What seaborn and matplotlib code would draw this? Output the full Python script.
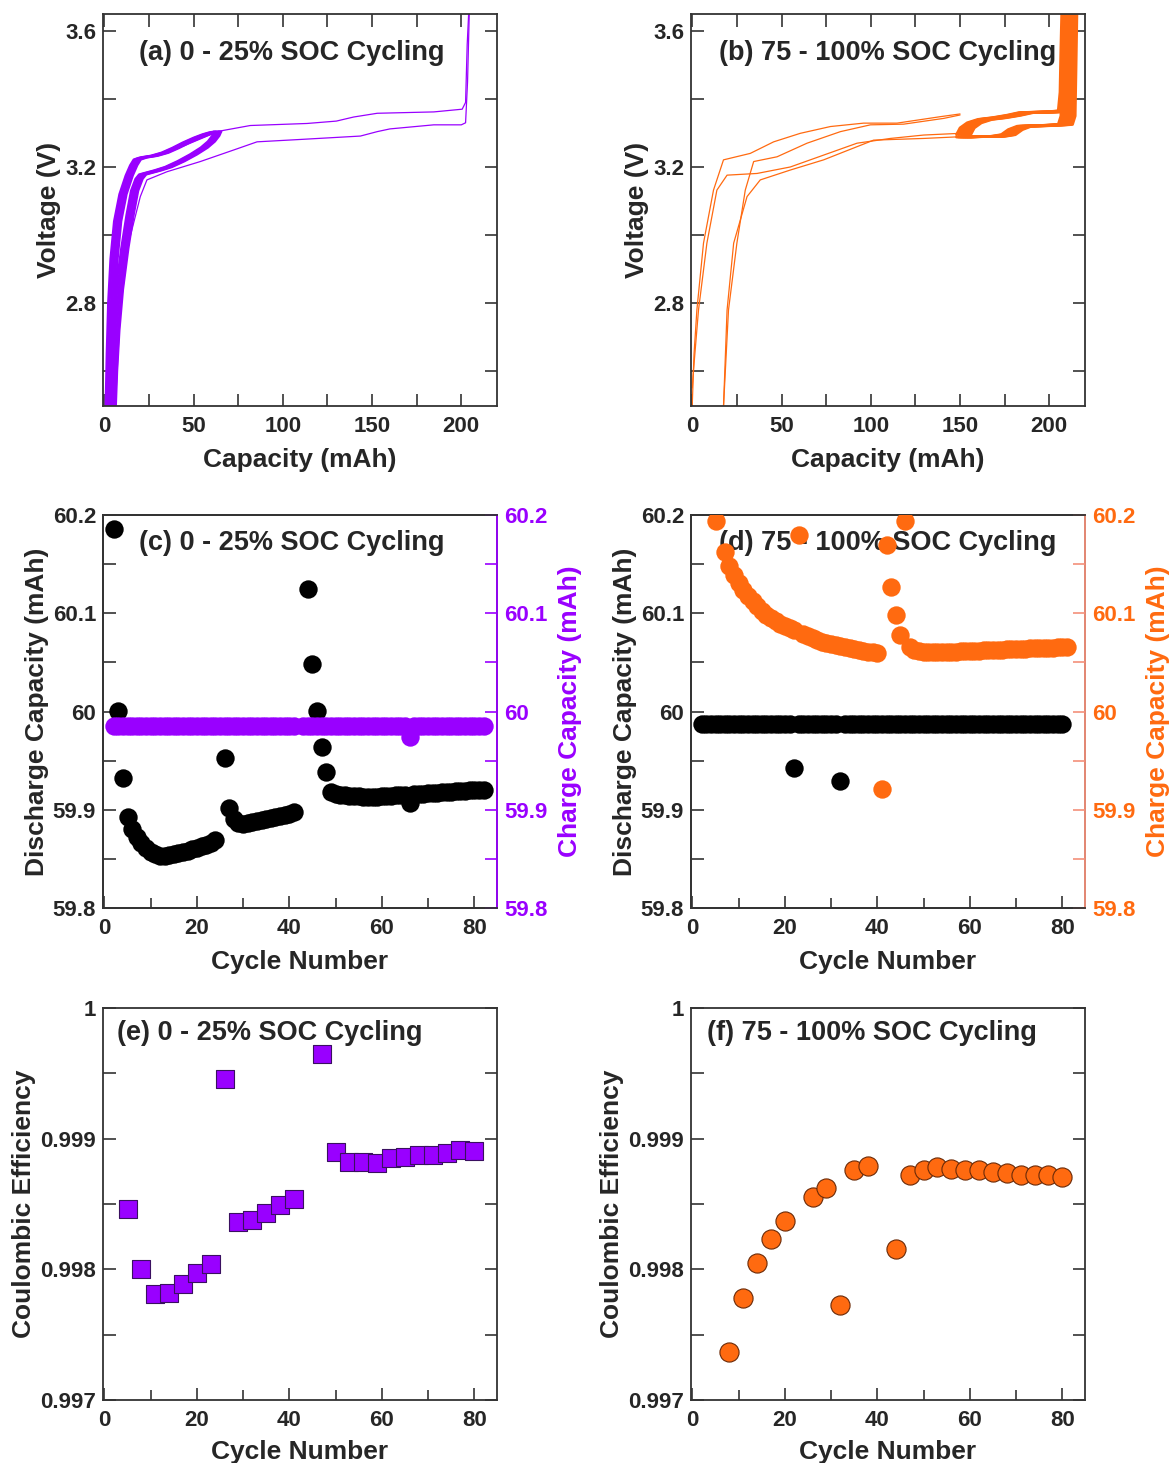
import numpy as np
import pandas as pd
import matplotlib
matplotlib.use("Agg")
import matplotlib.pyplot as plt
from matplotlib.ticker import MultipleLocator, FormatStrFormatter, FuncFormatter
import seaborn as sns

sns.set_style("ticks")
plt.rcParams['font.family'] = ['Liberation Sans', 'DejaVu Sans']
plt.rcParams['font.weight'] = 'bold'
plt.rcParams['axes.labelweight'] = 'bold'

PURPLE = '#9900ff'
ORANGE = '#ff6a10'
ORANGE_SPINE = '#f3907a'
SPINE = '#333333'

# ---------------- (a) 0-25% SOC voltage curves ----------------
a_bundle_chg_cap = [0.8, 1.4, 2.2, 3.5, 5.5, 8.5, 12.0, 14.5, 16.5, 20.0, 26.0, 32.0, 38.0, 44.0, 50.0, 55.0, 59.0, 61.5]
a_bundle_chg_v = [2.50, 2.65, 2.80, 2.93, 3.04, 3.12, 3.175, 3.205, 3.222, 3.228, 3.233, 3.242, 3.256, 3.272, 3.286, 3.296, 3.302, 3.304]
a_bundle_dis_cap = [61.5, 60.5, 58.0, 54.0, 48.0, 41.0, 34.0, 28.0, 23.0, 19.5, 17.5, 15.0, 12.5, 9.5, 6.5, 4.5, 3.2, 2.5]
a_bundle_dis_v = [3.304, 3.292, 3.275, 3.257, 3.237, 3.217, 3.200, 3.190, 3.183, 3.178, 3.165, 3.13, 3.06, 2.96, 2.84, 2.72, 2.60, 2.50]
a_bundle_shift = [0.0, 0.8, 1.6, 2.4, 3.2, 4.0]

a_long_chg_cap = [3.0, 4.5, 7.0, 11.0, 15.0, 18.3, 25.8, 35.0, 44.5, 55.0, 64.0, 81.8, 113.6, 130.0, 139.7, 152.9, 184.6, 200.5, 202.4, 203.3, 204.2]
a_long_chg_v = [2.50, 2.80, 3.00, 3.13, 3.20, 3.226, 3.232, 3.245, 3.262, 3.285, 3.305, 3.322, 3.328, 3.335, 3.347, 3.358, 3.362, 3.370, 3.39, 3.56, 3.66]
a_long_dis_cap = [204.5, 203.5, 202.4, 200.0, 184.6, 160.0, 152.9, 143.5, 109.9, 85.6, 72.5, 53.8, 35.1, 23.9, 20.2, 13.6, 9.0, 6.2]
a_long_dis_v = [3.66, 3.45, 3.33, 3.324, 3.324, 3.312, 3.304, 3.291, 3.281, 3.274, 3.250, 3.216, 3.186, 3.162, 3.113, 2.976, 2.779, 2.495]

# ---------------- (b) 75-100% SOC voltage curves ----------------
b_chg1_cap = [0.0, 1.0, 2.6, 6.3, 11.9, 17.5, 32.5, 45.6, 60.5, 77.4, 96.0, 114.7, 139.0, 150.0]
b_chg1_v = [2.50, 2.65, 2.78, 2.976, 3.132, 3.221, 3.240, 3.274, 3.299, 3.319, 3.329, 3.329, 3.348, 3.356]
b_chg2_cap = [17.5, 20.3, 25.0, 29.7, 34.4, 47.5, 64.3, 83.0, 99.8, 118.4, 140.9, 150.0]
b_chg2_v = [2.495, 2.779, 2.976, 3.132, 3.216, 3.230, 3.270, 3.304, 3.324, 3.326, 3.343, 3.353]
b_dis1_cap = [150.0, 129.7, 111.0, 92.3, 73.6, 54.9, 36.3, 19.5, 13.8, 8.2, 3.5, 0.4, 0.0]
b_dis1_v = [3.299, 3.294, 3.284, 3.270, 3.235, 3.200, 3.181, 3.176, 3.132, 2.976, 2.779, 2.583, 2.55]
b_dis2_cap = [150.0, 129.7, 101.6, 73.6, 54.9, 38.1, 30.7, 23.2, 19.5, 17.5]
b_dis2_v = [3.289, 3.284, 3.279, 3.221, 3.191, 3.162, 3.113, 2.976, 2.779, 2.495]

b_bundle_chg_cap = [148.0, 150.0, 154.0, 160.0, 168.0, 176.0, 183.0, 198.0, 205.0, 206.0, 206.5, 207.0]
b_bundle_chg_v = [3.295, 3.315, 3.330, 3.340, 3.345, 3.352, 3.360, 3.362, 3.365, 3.42, 3.55, 3.66]
b_bundle_dis_cap = [207.5, 207.0, 206.5, 205.0, 195.0, 182.0, 177.0, 173.0, 167.0, 158.0, 148.0]
b_bundle_dis_v = [3.66, 3.50, 3.35, 3.325, 3.322, 3.320, 3.310, 3.295, 3.290, 3.290, 3.288]
b_bundle_shift = [0.0, 1.0, 2.0, 3.0, 4.0, 5.0, 6.0, 7.0, 8.0]

# ---------------- (c) 0-25% SOC capacities ----------------
c_dis_cycle = [2, 3, 4, 5, 6, 7, 8, 9, 10, 11, 12, 13, 14, 15, 16, 17, 18, 19, 20, 21, 22, 23, 24,
               26, 27, 28, 29, 30, 31, 32, 33, 34, 35, 36, 37, 38, 39, 40, 41,
               44, 45, 46, 47, 48, 49, 50, 51, 52, 53, 54, 55, 56, 57, 58, 59, 60, 61, 62, 63, 64, 65,
               66, 67, 68, 69, 70, 71, 72, 73, 74, 75, 76, 77, 78, 79, 80, 81, 82]
c_dis_cap = [60.186, 60.001, 59.932, 59.893, 59.880, 59.872, 59.866, 59.861, 59.857, 59.855, 59.853, 59.853,
             59.854, 59.855, 59.856, 59.857, 59.858, 59.860, 59.861, 59.863, 59.864, 59.866, 59.869,
             59.953, 59.902, 59.891, 59.887, 59.886, 59.887, 59.888, 59.889, 59.890, 59.891, 59.892,
             59.893, 59.894, 59.895, 59.896, 59.898,
             60.125, 60.048, 60.001, 59.964, 59.938, 59.918, 59.916, 59.915, 59.915, 59.914, 59.914,
             59.914, 59.913, 59.913, 59.913, 59.913, 59.914, 59.914, 59.914, 59.915, 59.915, 59.915,
             59.907, 59.916, 59.916, 59.916, 59.917, 59.917, 59.917, 59.918, 59.918, 59.918, 59.919,
             59.919, 59.919, 59.920, 59.920, 59.920, 59.920]
c_chg_cycle = [2, 3, 4, 5, 6, 7, 8, 9, 10, 11, 12, 13, 14, 15, 16, 17, 18, 19, 20, 21, 22, 23, 24, 25,
               26, 27, 28, 29, 30, 31, 32, 33, 34, 35, 36, 37, 38, 39, 40, 41,
               43, 44, 45, 46, 47, 48, 49, 50, 51, 52, 53, 54, 55, 56, 57, 58, 59, 60, 61, 62, 63, 64, 65,
               66, 67, 68, 69, 70, 71, 72, 73, 74, 75, 76, 77, 78, 79, 80, 81, 82]
c_chg_cap = [59.985, 59.985, 59.985, 59.985, 59.985, 59.985, 59.985, 59.985, 59.985, 59.985,
             59.985, 59.985, 59.985, 59.985, 59.985, 59.985, 59.985, 59.985, 59.985, 59.985,
             59.985, 59.985, 59.985, 59.985, 59.985, 59.985, 59.985, 59.985, 59.985, 59.985,
             59.985, 59.985, 59.985, 59.985, 59.985, 59.985, 59.985, 59.985, 59.985, 59.985,
             59.985, 59.985, 59.985, 59.985, 59.985, 59.985, 59.985, 59.985, 59.985, 59.985,
             59.985, 59.985, 59.985, 59.985, 59.985, 59.985, 59.985, 59.985, 59.985, 59.985,
             59.985, 59.985, 59.985, 59.974, 59.985, 59.985, 59.985, 59.985, 59.985, 59.985,
             59.985, 59.985, 59.985, 59.985, 59.985, 59.985, 59.985, 59.985, 59.985, 59.985]

# ---------------- (d) 75-100% SOC capacities ----------------
d_dis_cycle = [2, 3, 4, 5, 6, 7, 8, 9, 10, 11, 12, 13, 14, 15, 16, 17, 18, 19, 20, 21, 22, 23, 24, 25,
               26, 27, 28, 29, 30, 31, 32, 33, 34, 35, 36, 37, 38, 39, 40, 41, 42, 43, 44, 45, 46, 47,
               48, 49, 50, 51, 52, 53, 54, 55, 56, 57, 58, 59, 60, 61, 62, 63, 64, 65, 66, 67, 68, 69,
               70, 71, 72, 73, 74, 75, 76, 77, 78, 79, 80]
d_dis_cap = [59.987, 59.987, 59.987, 59.987, 59.987, 59.987, 59.987, 59.987, 59.987, 59.987,
             59.987, 59.987, 59.987, 59.987, 59.987, 59.987, 59.987, 59.987, 59.987, 59.987,
             59.943, 59.987, 59.987, 59.987, 59.987, 59.987, 59.987, 59.987, 59.987, 59.987,
             59.929, 59.987, 59.987, 59.987, 59.987, 59.987, 59.987, 59.987, 59.987, 59.987,
             59.987, 59.987, 59.987, 59.987, 59.987, 59.987, 59.987, 59.987, 59.987, 59.987,
             59.987, 59.987, 59.987, 59.987, 59.987, 59.987, 59.987, 59.987, 59.987, 59.987,
             59.987, 59.987, 59.987, 59.987, 59.987, 59.987, 59.987, 59.987, 59.987, 59.987,
             59.987, 59.987, 59.987, 59.987, 59.987, 59.987, 59.987, 59.987, 59.987]
d_chg_cycle = [5, 7, 8, 9, 10, 11, 12, 13, 14, 15, 16, 17, 18, 19, 20, 21, 22, 23, 24, 25, 26, 27, 28,
               29, 30, 31, 32, 33, 34, 35, 36, 37, 38, 39, 40, 41, 42, 43, 44, 45, 46, 47, 48, 49, 50,
               51, 52, 53, 54, 55, 56, 57, 58, 59, 60, 61, 62, 63, 64, 65, 66, 67, 68, 69, 70, 71, 72,
               73, 74, 75, 76, 77, 78, 79, 80, 81]
d_chg_cap = [60.194, 60.162, 60.148, 60.139, 60.131, 60.124, 60.118, 60.112, 60.107, 60.102,
             60.098, 60.095, 60.092, 60.089, 60.087, 60.085, 60.083, 60.180, 60.079, 60.077,
             60.075, 60.073, 60.071, 60.070, 60.069, 60.068, 60.067, 60.066, 60.065, 60.064,
             60.063, 60.062, 60.061, 60.061, 60.060, 59.921, 60.169, 60.127, 60.098, 60.078,
             60.194, 60.066, 60.063, 60.062, 60.061, 60.061, 60.061, 60.061, 60.061, 60.061,
             60.061, 60.061, 60.062, 60.062, 60.062, 60.062, 60.062, 60.063, 60.063, 60.063,
             60.063, 60.063, 60.064, 60.064, 60.064, 60.064, 60.064, 60.065, 60.065, 60.065,
             60.065, 60.065, 60.065, 60.066, 60.066, 60.066]

# ---------------- (e), (f) Coulombic efficiency ----------------
e_cycle = [5, 8, 11, 14, 17, 20, 23, 26, 29, 32, 35, 38, 41, 47, 50, 53, 56, 59, 62, 65, 68, 71, 74, 77, 80]
e_ce = [0.998463, 0.998005, 0.997814, 0.997822, 0.997891, 0.997975, 0.998038, 0.999458, 0.998361,
        0.998374, 0.998433, 0.998491, 0.998540, 0.999649, 0.998898, 0.998819, 0.998819, 0.998814,
        0.998853, 0.998857, 0.998878, 0.998878, 0.998891, 0.998911, 0.998903]
f_cycle = [8, 11, 14, 17, 20, 26, 29, 32, 35, 38, 44, 47, 50, 53, 56, 59, 62, 65, 68, 71, 74, 77, 80]
f_ce = [0.997369, 0.997784, 0.998051, 0.998234, 0.998369, 0.998555, 0.998624, 0.997725, 0.998763,
        0.998789, 0.998158, 0.998725, 0.998763, 0.998784, 0.998769, 0.998763, 0.998758, 0.998743,
        0.998738, 0.998725, 0.998725, 0.998725, 0.998708]

titles = ["(a) 0 - 25% SOC Cycling", "(b) 75 - 100% SOC Cycling",
          "(c) 0 - 25% SOC Cycling", "(d) 75 - 100% SOC Cycling",
          "(e) 0 - 25% SOC Cycling", "(f) 75 - 100% SOC Cycling"]

TICK_FS = 16
LABEL_FS = 19
TITLE_FS = 19.5

W, H = 1171, 1463
fig = plt.figure(figsize=(W / 100, H / 100), dpi=100)


def box(l, t, r, b):
    return [l / W, 1 - b / H, (r - l) / W, (b - t) / H]


def style(ax, top=True, right=True):
    for s in ax.spines.values():
        s.set_color(SPINE)
        s.set_linewidth(1.3)
    ax.tick_params(which='both', direction='in', top=top, right=right,
                   labelsize=TICK_FS, color=SPINE, width=1.2, pad=5)
    ax.tick_params(axis='x', which='both', pad=7)
    ax.tick_params(which='major', length=9)
    ax.tick_params(which='minor', length=7)
    for lab in ax.get_xticklabels() + ax.get_yticklabels():
        lab.set_fontweight('bold')


def gfmt(v, pos):
    return ('%g' % round(v, 6))


# ---------- (a) ----------
ax_a = fig.add_axes(box(103, 14, 497, 406))
for sh in a_bundle_shift:
    sns.lineplot(x=[c + sh for c in a_bundle_chg_cap], y=a_bundle_chg_v, sort=False, estimator=None,
                 ax=ax_a, color=PURPLE, lw=1.6)
    sns.lineplot(x=[c + sh for c in a_bundle_dis_cap], y=a_bundle_dis_v, sort=False, estimator=None,
                 ax=ax_a, color=PURPLE, lw=1.6)
sns.lineplot(x=a_long_chg_cap, y=a_long_chg_v, sort=False, estimator=None, ax=ax_a, color=PURPLE, lw=0.9)
sns.lineplot(x=a_long_dis_cap, y=a_long_dis_v, sort=False, estimator=None, ax=ax_a, color=PURPLE, lw=0.9)

# ---------- (b) ----------
ax_b = fig.add_axes(box(691, 14, 1085, 406))
for xs, ys in [(b_chg1_cap, b_chg1_v), (b_chg2_cap, b_chg2_v), (b_dis1_cap, b_dis1_v), (b_dis2_cap, b_dis2_v)]:
    sns.lineplot(x=xs, y=ys, sort=False, estimator=None, ax=ax_b, color=ORANGE, lw=0.9)
for sh in b_bundle_shift:
    sns.lineplot(x=[c + sh for c in b_bundle_chg_cap], y=b_bundle_chg_v, sort=False, estimator=None,
                 ax=ax_b, color=ORANGE, lw=2.0)
    sns.lineplot(x=[c + sh for c in b_bundle_dis_cap], y=b_bundle_dis_v, sort=False, estimator=None,
                 ax=ax_b, color=ORANGE, lw=2.0)

for ax, t, tx in [(ax_a, titles[0], 0.091), (ax_b, titles[1], 0.071)]:
    ax.set_xlim(-0.7, 220)
    ax.set_ylim(2.497, 3.65)
    ax.xaxis.set_major_locator(MultipleLocator(50))
    ax.xaxis.set_minor_locator(MultipleLocator(25))
    ax.yaxis.set_major_locator(MultipleLocator(0.4))
    ax.yaxis.set_minor_locator(MultipleLocator(0.2))
    ax.yaxis.set_major_formatter(FormatStrFormatter('%.1f'))
    ax.set_xlabel("Capacity (mAh)", fontsize=LABEL_FS, fontweight='bold', labelpad=8)
    ax.set_ylabel("Voltage (V)", fontsize=LABEL_FS, fontweight='bold', labelpad=3)
    ax.text(tx, 0.90, t, transform=ax.transAxes, fontsize=TITLE_FS, fontweight='bold',
            ha='left', va='center')
    style(ax, top=True, right=True)
    ax.tick_params(which='minor', length=9)

# ---------- (c) and (d) ----------
S_CIRC = 175
for (l, r, dcy, dcap, ccy, ccap, col, spcol, t, tx) in [
        (103, 497, c_dis_cycle, c_dis_cap, c_chg_cycle, c_chg_cap, PURPLE, PURPLE, titles[2], 0.091),
        (691, 1085, d_dis_cycle, d_dis_cap, d_chg_cycle, d_chg_cap, ORANGE, ORANGE_SPINE, titles[3], 0.071)]:
    ax = fig.add_axes(box(l, 515, r, 908))
    sns.scatterplot(x=dcy, y=dcap, ax=ax, color='black', s=S_CIRC, linewidth=0, legend=False, zorder=3)
    ax.set_xlim(-0.3, 84.9)
    ax.set_ylim(59.8, 60.2)
    ax.xaxis.set_major_locator(MultipleLocator(20))
    ax.xaxis.set_minor_locator(MultipleLocator(10))
    ax.yaxis.set_major_locator(MultipleLocator(0.1))
    ax.yaxis.set_minor_locator(MultipleLocator(0.05))
    ax.yaxis.set_major_formatter(FuncFormatter(gfmt))
    ax.set_xlabel("Cycle Number", fontsize=LABEL_FS, fontweight='bold', labelpad=8)
    ax.set_ylabel("Discharge Capacity (mAh)", fontsize=LABEL_FS, fontweight='bold', labelpad=3)
    ax.text(tx, 0.929, t, transform=ax.transAxes, fontsize=TITLE_FS, fontweight='bold',
            ha='left', va='center', zorder=5)
    style(ax, top=False, right=False)
    ax.tick_params(axis='y', which='minor', length=9)

    tw = ax.twinx()
    sns.scatterplot(x=ccy, y=ccap, ax=tw, color=col, s=S_CIRC, linewidth=0, legend=False, zorder=3)
    tw.set_ylim(59.8, 60.2)
    tw.yaxis.set_major_locator(MultipleLocator(0.1))
    tw.yaxis.set_minor_locator(MultipleLocator(0.05))
    tw.yaxis.set_major_formatter(FuncFormatter(gfmt))
    for s in tw.spines.values():
        s.set_linewidth(1.3)
        s.set_color(SPINE)
    tw.spines['right'].set_color(spcol)
    tw.spines['right'].set_linewidth(1.3)
    tw.tick_params(axis='y', which='both', direction='in', length=9, width=1.2, color=spcol,
                   labelcolor=col, labelsize=TICK_FS, pad=5)
    for lab in tw.get_yticklabels():
        lab.set_fontweight('bold')
    tw.set_ylabel("Charge Capacity (mAh)", fontsize=LABEL_FS, fontweight='bold', color=col,
                  rotation=90, labelpad=8)

# ---------- (e) and (f) ----------
for (l, r, cy, ce, mk, t, tx, fc, ec) in [
        (103, 497, e_cycle, e_ce, 's', titles[4], 0.036, PURPLE, '#3a1060'),
        (691, 1085, f_cycle, f_ce, 'o', titles[5], 0.041, ORANGE, '#6a2a08')]:
    ax = fig.add_axes(box(l, 1008, r, 1400))
    sns.scatterplot(x=cy, y=ce, ax=ax, marker=mk, color=fc, edgecolor=ec, s=170 if mk == 's' else 190,
                    linewidth=0.8, legend=False, zorder=3)
    ax.set_xlim(-0.3, 84.9)
    ax.set_ylim(0.997, 1.0)
    ax.xaxis.set_major_locator(MultipleLocator(20))
    ax.xaxis.set_minor_locator(MultipleLocator(10))
    ax.yaxis.set_major_locator(MultipleLocator(0.001))
    ax.yaxis.set_minor_locator(MultipleLocator(0.0005))
    ax.yaxis.set_major_formatter(FuncFormatter(gfmt))
    ax.set_xlabel("Cycle Number", fontsize=LABEL_FS, fontweight='bold', labelpad=7)
    ax.set_ylabel("Coulombic Efficiency", fontsize=LABEL_FS, fontweight='bold', labelpad=3)
    ax.text(tx, 0.936, t, transform=ax.transAxes, fontsize=TITLE_FS, fontweight='bold',
            ha='left', va='center')
    style(ax, top=False, right=True)
    ax.tick_params(axis='y', which='minor', length=9)

fig.savefig("out.png", dpi=100)
